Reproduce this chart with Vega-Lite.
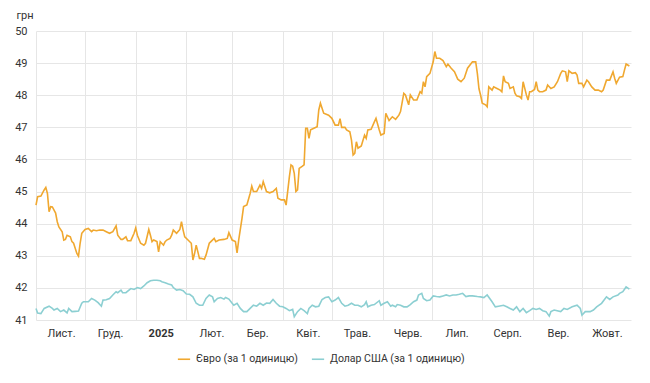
{
  "$schema": "https://vega.github.io/schema/vega-lite/v6.json",
  "autosize": {"type": "none"},
  "width": 595,
  "height": 289,
  "padding": {"left": 36, "top": 31, "right": 19, "bottom": 63},
  "background": "white",
  "config": {
    "font": "Roboto",
    "view": {"stroke": null},
    "axis": {"labelFont": "Roboto", "labelFontSize": 11, "labelColor": "#333333", "gridColor": "#e6e6e6", "gridWidth": 1, "domain": false, "ticks": false},
    "legend": {"labelFont": "Roboto", "labelFontSize": 10.5, "labelColor": "#333333"}
  },
  "data": {
    "values": [
      {"s":"EUR","d":"2024/11/01","v":44.58},{"s":"EUR","d":"2024/11/02","v":44.84},{"s":"EUR","d":"2024/11/04","v":44.86},{"s":"EUR","d":"2024/11/06","v":45.05},{"s":"EUR","d":"2024/11/07","v":45.13},{"s":"EUR","d":"2024/11/08","v":44.94},{"s":"EUR","d":"2024/11/09","v":44.37},{"s":"EUR","d":"2024/11/10","v":44.53},{"s":"EUR","d":"2024/11/11","v":44.52},{"s":"EUR","d":"2024/11/13","v":44.33},{"s":"EUR","d":"2024/11/14","v":44.06},{"s":"EUR","d":"2024/11/15","v":43.90},{"s":"EUR","d":"2024/11/17","v":43.75},{"s":"EUR","d":"2024/11/18","v":43.49},{"s":"EUR","d":"2024/11/19","v":43.51},{"s":"EUR","d":"2024/11/20","v":43.64},{"s":"EUR","d":"2024/11/22","v":43.59},{"s":"EUR","d":"2024/11/23","v":43.44},{"s":"EUR","d":"2024/11/24","v":43.39},{"s":"EUR","d":"2024/11/26","v":43.07},{"s":"EUR","d":"2024/11/27","v":42.99},{"s":"EUR","d":"2024/11/28","v":43.39},{"s":"EUR","d":"2024/11/29","v":43.70},
      {"s":"EUR","d":"2024/12/01","v":43.82},{"s":"EUR","d":"2024/12/03","v":43.85},{"s":"EUR","d":"2024/12/05","v":43.75},{"s":"EUR","d":"2024/12/06","v":43.80},{"s":"EUR","d":"2024/12/08","v":43.78},{"s":"EUR","d":"2024/12/10","v":43.80},{"s":"EUR","d":"2024/12/12","v":43.80},{"s":"EUR","d":"2024/12/14","v":43.75},{"s":"EUR","d":"2024/12/16","v":43.70},{"s":"EUR","d":"2024/12/18","v":43.75},{"s":"EUR","d":"2024/12/20","v":43.93},{"s":"EUR","d":"2024/12/21","v":43.64},{"s":"EUR","d":"2024/12/23","v":43.51},{"s":"EUR","d":"2024/12/24","v":43.51},{"s":"EUR","d":"2024/12/26","v":43.59},{"s":"EUR","d":"2024/12/27","v":43.47},{"s":"EUR","d":"2024/12/29","v":43.47},{"s":"EUR","d":"2024/12/31","v":43.70},
      {"s":"EUR","d":"2025/01/01","v":43.87},{"s":"EUR","d":"2025/01/02","v":43.64},{"s":"EUR","d":"2025/01/04","v":43.39},{"s":"EUR","d":"2025/01/06","v":43.33},{"s":"EUR","d":"2025/01/07","v":43.39},{"s":"EUR","d":"2025/01/09","v":43.82},{"s":"EUR","d":"2025/01/10","v":43.64},{"s":"EUR","d":"2025/01/11","v":43.44},{"s":"EUR","d":"2025/01/12","v":43.49},{"s":"EUR","d":"2025/01/14","v":43.44},{"s":"EUR","d":"2025/01/15","v":43.12},{"s":"EUR","d":"2025/01/16","v":43.44},{"s":"EUR","d":"2025/01/18","v":43.33},{"s":"EUR","d":"2025/01/19","v":43.44},{"s":"EUR","d":"2025/01/20","v":43.49},{"s":"EUR","d":"2025/01/22","v":43.54},{"s":"EUR","d":"2025/01/23","v":43.64},{"s":"EUR","d":"2025/01/24","v":43.80},{"s":"EUR","d":"2025/01/26","v":43.70},{"s":"EUR","d":"2025/01/28","v":43.82},{"s":"EUR","d":"2025/01/29","v":44.06},{"s":"EUR","d":"2025/01/30","v":43.80},{"s":"EUR","d":"2025/01/31","v":43.59},
      {"s":"EUR","d":"2025/02/02","v":43.49},{"s":"EUR","d":"2025/02/04","v":43.39},{"s":"EUR","d":"2025/02/05","v":42.87},{"s":"EUR","d":"2025/02/06","v":43.07},{"s":"EUR","d":"2025/02/07","v":43.33},{"s":"EUR","d":"2025/02/09","v":42.92},{"s":"EUR","d":"2025/02/10","v":42.92},{"s":"EUR","d":"2025/02/12","v":42.89},{"s":"EUR","d":"2025/02/13","v":43.02},{"s":"EUR","d":"2025/02/15","v":43.39},{"s":"EUR","d":"2025/02/16","v":43.44},{"s":"EUR","d":"2025/02/18","v":43.54},{"s":"EUR","d":"2025/02/19","v":43.44},{"s":"EUR","d":"2025/02/21","v":43.49},{"s":"EUR","d":"2025/02/24","v":43.51},{"s":"EUR","d":"2025/02/26","v":43.54},{"s":"EUR","d":"2025/02/27","v":43.72},
      {"s":"EUR","d":"2025/03/01","v":43.49},{"s":"EUR","d":"2025/03/03","v":43.44},{"s":"EUR","d":"2025/03/04","v":43.09},{"s":"EUR","d":"2025/03/05","v":43.49},{"s":"EUR","d":"2025/03/07","v":44.16},{"s":"EUR","d":"2025/03/08","v":44.53},{"s":"EUR","d":"2025/03/10","v":44.58},{"s":"EUR","d":"2025/03/12","v":44.94},{"s":"EUR","d":"2025/03/13","v":45.17},{"s":"EUR","d":"2025/03/14","v":45.00},{"s":"EUR","d":"2025/03/16","v":45.00},{"s":"EUR","d":"2025/03/18","v":45.20},{"s":"EUR","d":"2025/03/19","v":45.10},{"s":"EUR","d":"2025/03/20","v":45.31},{"s":"EUR","d":"2025/03/22","v":45.00},{"s":"EUR","d":"2025/03/24","v":44.96},{"s":"EUR","d":"2025/03/26","v":45.00},{"s":"EUR","d":"2025/03/28","v":45.10},{"s":"EUR","d":"2025/03/29","v":44.79},{"s":"EUR","d":"2025/03/31","v":44.74},
      {"s":"EUR","d":"2025/04/02","v":44.74},{"s":"EUR","d":"2025/04/03","v":44.58},{"s":"EUR","d":"2025/04/05","v":45.46},{"s":"EUR","d":"2025/04/06","v":45.83},{"s":"EUR","d":"2025/04/07","v":45.79},{"s":"EUR","d":"2025/04/08","v":45.57},{"s":"EUR","d":"2025/04/09","v":45.00},{"s":"EUR","d":"2025/04/10","v":45.05},{"s":"EUR","d":"2025/04/11","v":45.72},{"s":"EUR","d":"2025/04/13","v":45.79},{"s":"EUR","d":"2025/04/14","v":45.83},{"s":"EUR","d":"2025/04/15","v":46.97},{"s":"EUR","d":"2025/04/16","v":46.97},{"s":"EUR","d":"2025/04/17","v":46.66},{"s":"EUR","d":"2025/04/18","v":46.92},{"s":"EUR","d":"2025/04/20","v":46.97},{"s":"EUR","d":"2025/04/22","v":47.02},{"s":"EUR","d":"2025/04/23","v":47.54},{"s":"EUR","d":"2025/04/24","v":47.75},{"s":"EUR","d":"2025/04/26","v":47.44},{"s":"EUR","d":"2025/04/29","v":47.38},
      {"s":"EUR","d":"2025/05/01","v":47.28},{"s":"EUR","d":"2025/05/03","v":47.07},{"s":"EUR","d":"2025/05/05","v":47.07},{"s":"EUR","d":"2025/05/06","v":47.27},{"s":"EUR","d":"2025/05/07","v":47.00},{"s":"EUR","d":"2025/05/09","v":47.00},{"s":"EUR","d":"2025/05/10","v":46.92},{"s":"EUR","d":"2025/05/12","v":46.86},{"s":"EUR","d":"2025/05/13","v":46.60},{"s":"EUR","d":"2025/05/14","v":46.14},{"s":"EUR","d":"2025/05/15","v":46.19},{"s":"EUR","d":"2025/05/16","v":46.55},{"s":"EUR","d":"2025/05/17","v":46.35},{"s":"EUR","d":"2025/05/19","v":46.42},{"s":"EUR","d":"2025/05/21","v":46.76},{"s":"EUR","d":"2025/05/22","v":46.66},{"s":"EUR","d":"2025/05/23","v":46.92},{"s":"EUR","d":"2025/05/25","v":46.94},{"s":"EUR","d":"2025/05/27","v":47.17},{"s":"EUR","d":"2025/05/28","v":47.28},{"s":"EUR","d":"2025/05/30","v":46.92},{"s":"EUR","d":"2025/05/31","v":46.76},
      {"s":"EUR","d":"2025/06/02","v":46.81},{"s":"EUR","d":"2025/06/03","v":47.44},{"s":"EUR","d":"2025/06/05","v":47.21},{"s":"EUR","d":"2025/06/07","v":47.33},{"s":"EUR","d":"2025/06/09","v":47.25},{"s":"EUR","d":"2025/06/11","v":47.38},{"s":"EUR","d":"2025/06/12","v":47.49},{"s":"EUR","d":"2025/06/14","v":48.06},{"s":"EUR","d":"2025/06/15","v":48.01},{"s":"EUR","d":"2025/06/17","v":47.70},{"s":"EUR","d":"2025/06/18","v":48.01},{"s":"EUR","d":"2025/06/20","v":47.85},{"s":"EUR","d":"2025/06/22","v":47.85},{"s":"EUR","d":"2025/06/24","v":48.11},{"s":"EUR","d":"2025/06/25","v":48.06},{"s":"EUR","d":"2025/06/26","v":48.42},{"s":"EUR","d":"2025/06/27","v":48.26},{"s":"EUR","d":"2025/06/28","v":48.58},{"s":"EUR","d":"2025/06/30","v":48.68},
      {"s":"EUR","d":"2025/07/02","v":49.04},{"s":"EUR","d":"2025/07/03","v":49.36},{"s":"EUR","d":"2025/07/04","v":49.15},{"s":"EUR","d":"2025/07/06","v":49.15},{"s":"EUR","d":"2025/07/08","v":49.08},{"s":"EUR","d":"2025/07/10","v":48.89},{"s":"EUR","d":"2025/07/11","v":48.97},{"s":"EUR","d":"2025/07/13","v":48.84},{"s":"EUR","d":"2025/07/15","v":48.73},{"s":"EUR","d":"2025/07/17","v":48.50},{"s":"EUR","d":"2025/07/19","v":48.42},{"s":"EUR","d":"2025/07/21","v":48.53},{"s":"EUR","d":"2025/07/23","v":48.84},{"s":"EUR","d":"2025/07/26","v":49.04},{"s":"EUR","d":"2025/07/28","v":49.04},{"s":"EUR","d":"2025/07/29","v":48.68},{"s":"EUR","d":"2025/07/30","v":48.20},{"s":"EUR","d":"2025/07/31","v":48.00},
      {"s":"EUR","d":"2025/08/01","v":47.75},{"s":"EUR","d":"2025/08/03","v":47.70},{"s":"EUR","d":"2025/08/04","v":47.64},{"s":"EUR","d":"2025/08/05","v":48.26},{"s":"EUR","d":"2025/08/07","v":48.16},{"s":"EUR","d":"2025/08/08","v":48.26},{"s":"EUR","d":"2025/08/10","v":48.21},{"s":"EUR","d":"2025/08/12","v":48.16},{"s":"EUR","d":"2025/08/13","v":48.11},{"s":"EUR","d":"2025/08/14","v":48.60},{"s":"EUR","d":"2025/08/15","v":48.42},{"s":"EUR","d":"2025/08/17","v":48.37},{"s":"EUR","d":"2025/08/18","v":48.21},{"s":"EUR","d":"2025/08/20","v":48.26},{"s":"EUR","d":"2025/08/21","v":48.06},{"s":"EUR","d":"2025/08/22","v":47.98},{"s":"EUR","d":"2025/08/24","v":47.95},{"s":"EUR","d":"2025/08/25","v":47.90},{"s":"EUR","d":"2025/08/26","v":48.42},{"s":"EUR","d":"2025/08/28","v":48.01},{"s":"EUR","d":"2025/08/29","v":47.85},{"s":"EUR","d":"2025/08/30","v":48.11},{"s":"EUR","d":"2025/08/31","v":48.11},
      {"s":"EUR","d":"2025/09/02","v":48.18},{"s":"EUR","d":"2025/09/03","v":48.42},{"s":"EUR","d":"2025/09/04","v":48.16},{"s":"EUR","d":"2025/09/05","v":48.11},{"s":"EUR","d":"2025/09/07","v":48.11},{"s":"EUR","d":"2025/09/09","v":48.16},{"s":"EUR","d":"2025/09/10","v":48.32},{"s":"EUR","d":"2025/09/12","v":48.21},{"s":"EUR","d":"2025/09/14","v":48.26},{"s":"EUR","d":"2025/09/16","v":48.42},{"s":"EUR","d":"2025/09/18","v":48.68},{"s":"EUR","d":"2025/09/19","v":48.76},{"s":"EUR","d":"2025/09/21","v":48.73},{"s":"EUR","d":"2025/09/22","v":48.42},{"s":"EUR","d":"2025/09/23","v":48.76},{"s":"EUR","d":"2025/09/25","v":48.68},{"s":"EUR","d":"2025/09/27","v":48.70},{"s":"EUR","d":"2025/09/28","v":48.63},{"s":"EUR","d":"2025/09/29","v":48.37},
      {"s":"EUR","d":"2025/10/01","v":48.37},{"s":"EUR","d":"2025/10/02","v":48.26},{"s":"EUR","d":"2025/10/04","v":48.47},{"s":"EUR","d":"2025/10/05","v":48.42},{"s":"EUR","d":"2025/10/07","v":48.26},{"s":"EUR","d":"2025/10/09","v":48.16},{"s":"EUR","d":"2025/10/11","v":48.16},{"s":"EUR","d":"2025/10/13","v":48.11},{"s":"EUR","d":"2025/10/14","v":48.16},{"s":"EUR","d":"2025/10/16","v":48.47},{"s":"EUR","d":"2025/10/18","v":48.47},{"s":"EUR","d":"2025/10/20","v":48.73},{"s":"EUR","d":"2025/10/21","v":48.53},{"s":"EUR","d":"2025/10/22","v":48.37},{"s":"EUR","d":"2025/10/24","v":48.56},{"s":"EUR","d":"2025/10/26","v":48.58},{"s":"EUR","d":"2025/10/27","v":48.78},{"s":"EUR","d":"2025/10/28","v":48.97},{"s":"EUR","d":"2025/10/30","v":48.91},

      {"s":"USD","d":"2024/11/01","v":41.36},{"s":"USD","d":"2024/11/02","v":41.22},{"s":"USD","d":"2024/11/04","v":41.20},{"s":"USD","d":"2024/11/06","v":41.36},{"s":"USD","d":"2024/11/09","v":41.43},{"s":"USD","d":"2024/11/11","v":41.36},{"s":"USD","d":"2024/11/12","v":41.31},{"s":"USD","d":"2024/11/14","v":41.36},{"s":"USD","d":"2024/11/16","v":41.26},{"s":"USD","d":"2024/11/18","v":41.31},{"s":"USD","d":"2024/11/20","v":41.22},{"s":"USD","d":"2024/11/21","v":41.36},{"s":"USD","d":"2024/11/23","v":41.26},{"s":"USD","d":"2024/11/25","v":41.27},{"s":"USD","d":"2024/11/27","v":41.28},{"s":"USD","d":"2024/11/29","v":41.52},{"s":"USD","d":"2024/11/30","v":41.57},
      {"s":"USD","d":"2024/12/03","v":41.57},{"s":"USD","d":"2024/12/05","v":41.67},{"s":"USD","d":"2024/12/07","v":41.62},{"s":"USD","d":"2024/12/09","v":41.54},{"s":"USD","d":"2024/12/11","v":41.43},{"s":"USD","d":"2024/12/12","v":41.62},{"s":"USD","d":"2024/12/14","v":41.63},{"s":"USD","d":"2024/12/16","v":41.67},{"s":"USD","d":"2024/12/18","v":41.78},{"s":"USD","d":"2024/12/20","v":41.88},{"s":"USD","d":"2024/12/21","v":41.85},{"s":"USD","d":"2024/12/23","v":41.93},{"s":"USD","d":"2024/12/24","v":41.85},{"s":"USD","d":"2024/12/26","v":41.85},{"s":"USD","d":"2024/12/29","v":41.98},{"s":"USD","d":"2024/12/31","v":41.95},
      {"s":"USD","d":"2025/01/02","v":42.01},{"s":"USD","d":"2025/01/04","v":41.98},{"s":"USD","d":"2025/01/06","v":42.06},{"s":"USD","d":"2025/01/08","v":42.16},{"s":"USD","d":"2025/01/10","v":42.22},{"s":"USD","d":"2025/01/12","v":42.24},{"s":"USD","d":"2025/01/14","v":42.24},{"s":"USD","d":"2025/01/16","v":42.22},{"s":"USD","d":"2025/01/17","v":42.19},{"s":"USD","d":"2025/01/19","v":42.16},{"s":"USD","d":"2025/01/21","v":42.12},{"s":"USD","d":"2025/01/23","v":42.09},{"s":"USD","d":"2025/01/24","v":42.01},{"s":"USD","d":"2025/01/26","v":41.93},{"s":"USD","d":"2025/01/28","v":41.95},{"s":"USD","d":"2025/01/30","v":41.91},
      {"s":"USD","d":"2025/02/01","v":41.81},{"s":"USD","d":"2025/02/03","v":41.80},{"s":"USD","d":"2025/02/05","v":41.72},{"s":"USD","d":"2025/02/07","v":41.52},{"s":"USD","d":"2025/02/09","v":41.46},{"s":"USD","d":"2025/02/11","v":41.46},{"s":"USD","d":"2025/02/13","v":41.67},{"s":"USD","d":"2025/02/15","v":41.78},{"s":"USD","d":"2025/02/17","v":41.72},{"s":"USD","d":"2025/02/18","v":41.57},{"s":"USD","d":"2025/02/20","v":41.67},{"s":"USD","d":"2025/02/22","v":41.70},{"s":"USD","d":"2025/02/24","v":41.65},{"s":"USD","d":"2025/02/25","v":41.70},{"s":"USD","d":"2025/02/27","v":41.65},
      {"s":"USD","d":"2025/03/01","v":41.52},{"s":"USD","d":"2025/03/02","v":41.46},{"s":"USD","d":"2025/03/04","v":41.52},{"s":"USD","d":"2025/03/06","v":41.36},{"s":"USD","d":"2025/03/08","v":41.26},{"s":"USD","d":"2025/03/10","v":41.26},{"s":"USD","d":"2025/03/12","v":41.36},{"s":"USD","d":"2025/03/14","v":41.46},{"s":"USD","d":"2025/03/16","v":41.43},{"s":"USD","d":"2025/03/18","v":41.52},{"s":"USD","d":"2025/03/20","v":41.46},{"s":"USD","d":"2025/03/22","v":41.53},{"s":"USD","d":"2025/03/24","v":41.52},{"s":"USD","d":"2025/03/26","v":41.64},{"s":"USD","d":"2025/03/28","v":41.52},{"s":"USD","d":"2025/03/30","v":41.43},
      {"s":"USD","d":"2025/04/01","v":41.41},{"s":"USD","d":"2025/04/03","v":41.36},{"s":"USD","d":"2025/04/05","v":41.29},{"s":"USD","d":"2025/04/07","v":41.33},{"s":"USD","d":"2025/04/08","v":41.10},{"s":"USD","d":"2025/04/10","v":41.26},{"s":"USD","d":"2025/04/12","v":41.36},{"s":"USD","d":"2025/04/14","v":41.29},{"s":"USD","d":"2025/04/16","v":41.20},{"s":"USD","d":"2025/04/17","v":41.36},{"s":"USD","d":"2025/04/19","v":41.46},{"s":"USD","d":"2025/04/21","v":41.41},{"s":"USD","d":"2025/04/23","v":41.43},{"s":"USD","d":"2025/04/25","v":41.64},{"s":"USD","d":"2025/04/27","v":41.70},{"s":"USD","d":"2025/04/29","v":41.72},
      {"s":"USD","d":"2025/05/01","v":41.57},{"s":"USD","d":"2025/05/03","v":41.62},{"s":"USD","d":"2025/05/05","v":41.70},{"s":"USD","d":"2025/05/07","v":41.52},{"s":"USD","d":"2025/05/09","v":41.43},{"s":"USD","d":"2025/05/11","v":41.46},{"s":"USD","d":"2025/05/13","v":41.52},{"s":"USD","d":"2025/05/15","v":41.46},{"s":"USD","d":"2025/05/17","v":41.46},{"s":"USD","d":"2025/05/19","v":41.41},{"s":"USD","d":"2025/05/21","v":41.48},{"s":"USD","d":"2025/05/22","v":41.57},{"s":"USD","d":"2025/05/23","v":41.41},{"s":"USD","d":"2025/05/25","v":41.46},{"s":"USD","d":"2025/05/27","v":41.48},{"s":"USD","d":"2025/05/30","v":41.60},{"s":"USD","d":"2025/05/31","v":41.46},
      {"s":"USD","d":"2025/06/02","v":41.52},{"s":"USD","d":"2025/06/04","v":41.57},{"s":"USD","d":"2025/06/06","v":41.43},{"s":"USD","d":"2025/06/07","v":41.46},{"s":"USD","d":"2025/06/09","v":41.41},{"s":"USD","d":"2025/06/10","v":41.48},{"s":"USD","d":"2025/06/12","v":41.46},{"s":"USD","d":"2025/06/14","v":41.41},{"s":"USD","d":"2025/06/16","v":41.41},{"s":"USD","d":"2025/06/18","v":41.48},{"s":"USD","d":"2025/06/20","v":41.57},{"s":"USD","d":"2025/06/22","v":41.62},{"s":"USD","d":"2025/06/23","v":41.78},{"s":"USD","d":"2025/06/25","v":41.83},{"s":"USD","d":"2025/06/26","v":41.67},{"s":"USD","d":"2025/06/28","v":41.60},{"s":"USD","d":"2025/06/30","v":41.62},
      {"s":"USD","d":"2025/07/02","v":41.75},{"s":"USD","d":"2025/07/04","v":41.73},{"s":"USD","d":"2025/07/06","v":41.72},{"s":"USD","d":"2025/07/08","v":41.75},{"s":"USD","d":"2025/07/10","v":41.78},{"s":"USD","d":"2025/07/12","v":41.75},{"s":"USD","d":"2025/07/14","v":41.78},{"s":"USD","d":"2025/07/16","v":41.78},{"s":"USD","d":"2025/07/18","v":41.80},{"s":"USD","d":"2025/07/20","v":41.83},{"s":"USD","d":"2025/07/22","v":41.73},{"s":"USD","d":"2025/07/24","v":41.75},{"s":"USD","d":"2025/07/26","v":41.75},{"s":"USD","d":"2025/07/29","v":41.73},{"s":"USD","d":"2025/07/31","v":41.72},
      {"s":"USD","d":"2025/08/02","v":41.70},{"s":"USD","d":"2025/08/04","v":41.78},{"s":"USD","d":"2025/08/07","v":41.57},{"s":"USD","d":"2025/08/09","v":41.41},{"s":"USD","d":"2025/08/11","v":41.43},{"s":"USD","d":"2025/08/14","v":41.46},{"s":"USD","d":"2025/08/16","v":41.41},{"s":"USD","d":"2025/08/18","v":41.36},{"s":"USD","d":"2025/08/20","v":41.31},{"s":"USD","d":"2025/08/22","v":41.41},{"s":"USD","d":"2025/08/24","v":41.26},{"s":"USD","d":"2025/08/26","v":41.36},{"s":"USD","d":"2025/08/28","v":41.23},{"s":"USD","d":"2025/08/30","v":41.29},
      {"s":"USD","d":"2025/09/01","v":41.36},{"s":"USD","d":"2025/09/03","v":41.33},{"s":"USD","d":"2025/09/05","v":41.36},{"s":"USD","d":"2025/09/07","v":41.29},{"s":"USD","d":"2025/09/09","v":41.26},{"s":"USD","d":"2025/09/11","v":41.12},{"s":"USD","d":"2025/09/12","v":41.26},{"s":"USD","d":"2025/09/14","v":41.31},{"s":"USD","d":"2025/09/18","v":41.26},{"s":"USD","d":"2025/09/20","v":41.36},{"s":"USD","d":"2025/09/22","v":41.33},{"s":"USD","d":"2025/09/25","v":41.41},{"s":"USD","d":"2025/09/28","v":41.46},{"s":"USD","d":"2025/09/30","v":41.36},
      {"s":"USD","d":"2025/10/01","v":41.15},{"s":"USD","d":"2025/10/03","v":41.26},{"s":"USD","d":"2025/10/06","v":41.26},{"s":"USD","d":"2025/10/08","v":41.31},{"s":"USD","d":"2025/10/10","v":41.41},{"s":"USD","d":"2025/10/13","v":41.52},{"s":"USD","d":"2025/10/16","v":41.72},{"s":"USD","d":"2025/10/18","v":41.64},{"s":"USD","d":"2025/10/20","v":41.72},{"s":"USD","d":"2025/10/23","v":41.78},{"s":"USD","d":"2025/10/24","v":41.83},{"s":"USD","d":"2025/10/26","v":41.88},{"s":"USD","d":"2025/10/28","v":42.03},{"s":"USD","d":"2025/10/30","v":41.96}
    ]
  },
  "mark": {"type": "line", "strokeWidth": 1.6, "interpolate": "linear"},
  "encoding": {
    "x": {
      "field": "d",
      "type": "temporal",
      "scale": {"domain": [{"year": 2024, "month": 11, "date": 1}, {"year": 2025, "month": 10, "date": 31}], "nice": false},
      "axis": {
        "title": null,
        "grid": true,
        "tickCount": {"interval": "month", "step": 1},
        "labelOffset": 25,
        "labelPadding": 7,
        "labelOverlap": false,
        "labelFlush": false,
        "labelExpr": "month(datum.value) == 0 ? timeFormat(datum.value, '%Y') : ['Січ.','Лют.','Бер.','Квіт.','Трав.','Черв.','Лип.','Серп.','Вер.','Жовт.','Лист.','Груд.'][month(datum.value)]",
        "labelFontWeight": {"condition": {"test": "month(datum.value) == 0", "value": "bold"}, "value": "normal"}
      }
    },
    "y": {
      "field": "v",
      "type": "quantitative",
      "scale": {"domain": [41, 50], "nice": false, "zero": false},
      "axis": {
        "values": [41, 42, 43, 44, 45, 46, 47, 48, 49, 50],
        "grid": true,
        "labelPadding": 9,
        "title": "грн",
        "titleAngle": 0,
        "titleAlign": "left",
        "titleBaseline": "middle",
        "titleX": -20,
        "titleY": -16,
        "titleFontWeight": "normal",
        "titleFontSize": 11,
        "titleFont": "Roboto",
        "titleColor": "#333333"
      }
    },
    "color": {
      "field": "s",
      "type": "nominal",
      "scale": {"domain": ["EUR", "USD"], "range": ["#f0a830", "#8ccfd2"]},
      "legend": {
        "title": null,
        "orient": "none",
        "direction": "horizontal",
        "legendX": 141,
        "legendY": 321,
        "symbolType": "stroke",
        "symbolSize": 150,
        "symbolStrokeWidth": 1.6,
        "labelOffset": 5,
        "columnPadding": 10,
        "labelExpr": "datum.label == 'EUR' ? 'Євро (за 1 одиницю)' : 'Долар США (за 1 одиницю)'"
      }
    }
  }
}
